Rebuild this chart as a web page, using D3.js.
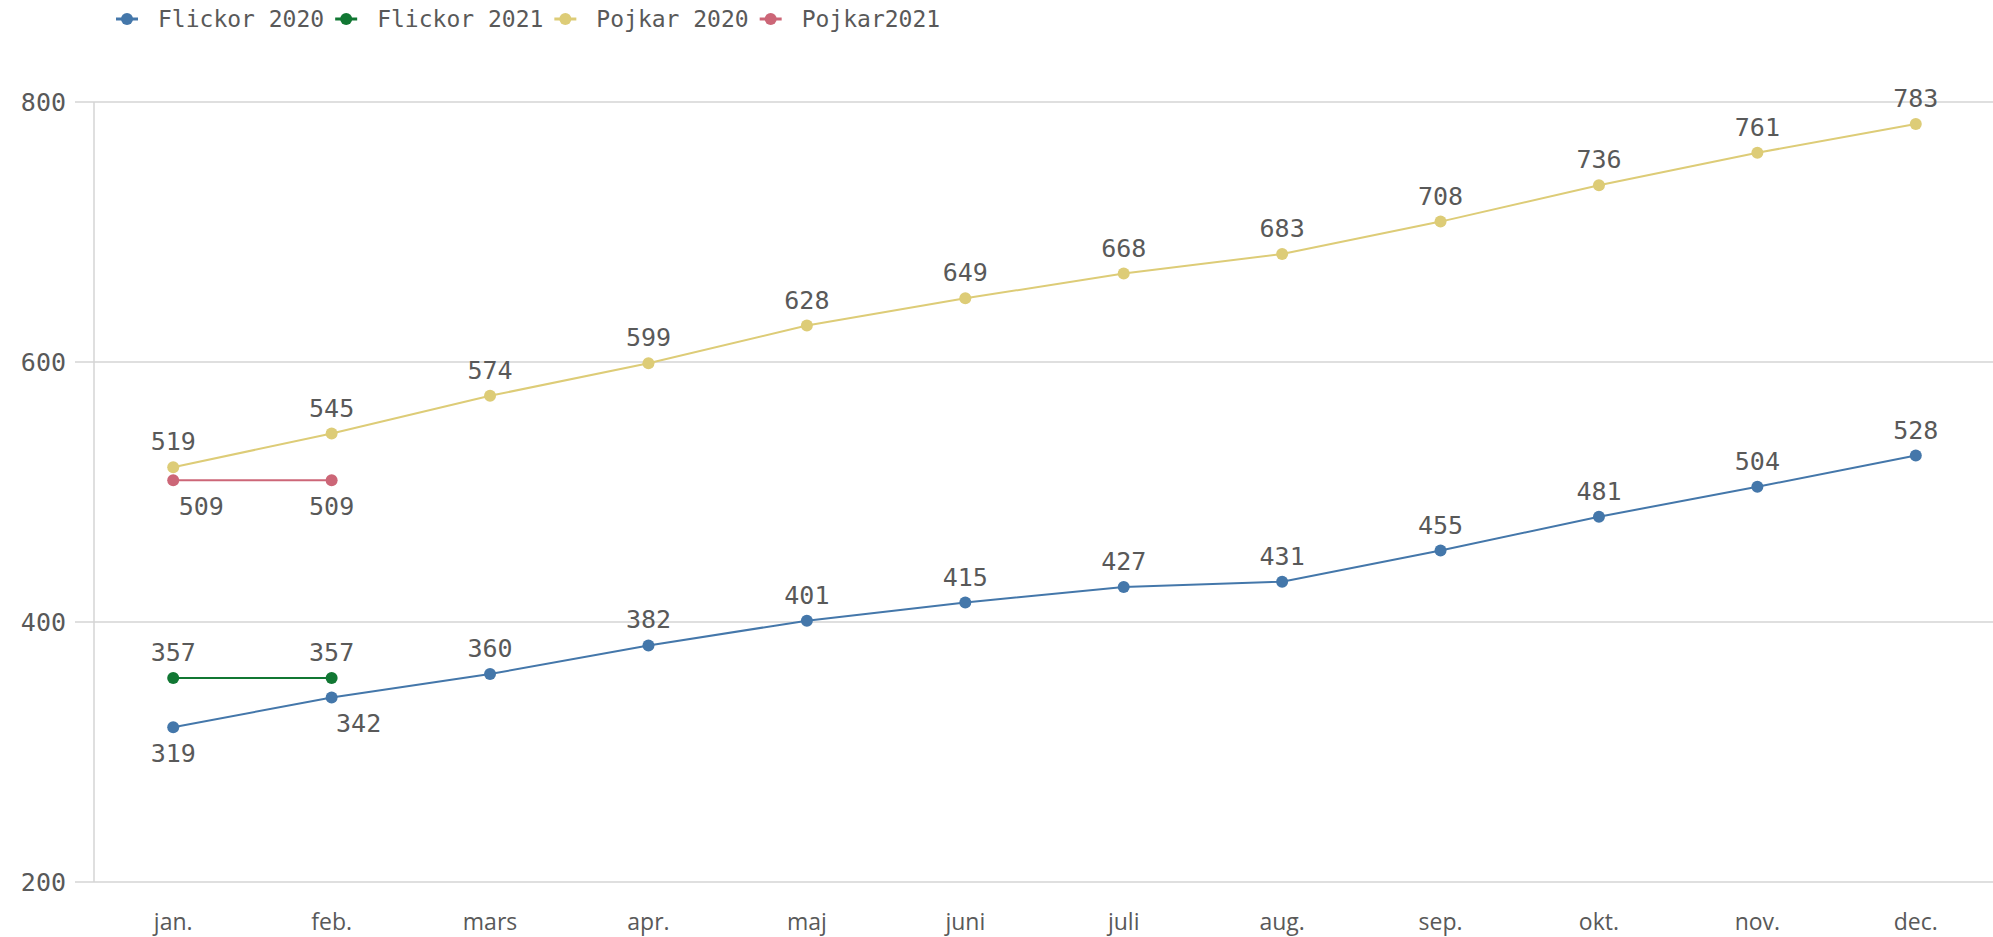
<!DOCTYPE html>
<html>
<head>
<meta charset="utf-8">
<script src="https://d3js.org/d3.v7.min.js"></script>
<style>
  body { margin: 0; background: #fff; }
</style>
</head>
<body>
<div id="container"></div>
<script>
const months = ["jan.", "feb.", "mars", "apr.", "maj", "juni", "juli", "aug.", "sep.", "okt.", "nov.", "dec."];
const flickor2020 = [319, 342, 360, 382, 401, 415, 427, 431, 455, 481, 504, 528];
const flickor2021 = [357, 357];
const pojkar2020 = [519, 545, 574, 599, 628, 649, 668, 683, 708, 736, 761, 783];
const pojkar2021 = [509, 509];
const yTicks = [200, 400, 600, 800];

const width = 1993;
const height = 937;
const margin = { top: 102, right: -2, bottom: 55, left: 94 };
const numFont = "'DejaVu Sans Mono', monospace";
const textColor = "#595959";

const series = [
    { name: "Flickor 2020", color: "#4477aa", values: flickor2020 },
    { name: "Flickor 2021", color: "#117733", values: flickor2021 },
    { name: "Pojkar 2020", color: "#ddcc77", values: pojkar2020 },
    { name: "Pojkar2021", color: "#cc6677", values: pojkar2021 }
];

// labels that sit under the point instead of above (series index - month index : dx)
const below = { "0-0": 0, "0-1": 27, "3-0": 28, "3-1": 0 };

let x = d3.scalePoint()
    .domain(months)
    .range([margin.left, width - margin.right])
    .padding(0.5);

let y = d3.scaleLinear()
    .domain([200, 800])
    .range([height - margin.bottom, margin.top]);

let svg = d3.select("#container").append("svg")
    .attr("width", width)
    .attr("height", height);

// grid
svg.append("g")
    .selectAll("line")
    .data(yTicks)
    .join("line")
    .attr("x1", margin.left - 19)
    .attr("x2", width)
    .attr("y1", d => y(d))
    .attr("y2", d => y(d))
    .attr("stroke", "#d4d4d4")
    .attr("stroke-width", 1.5);

svg.append("line")
    .attr("x1", margin.left)
    .attr("x2", margin.left)
    .attr("y1", y(800))
    .attr("y2", y(200))
    .attr("stroke", "#d4d4d4")
    .attr("stroke-width", 1.5);

svg.append("g")
    .selectAll("text")
    .data(yTicks)
    .join("text")
    .attr("x", 66)
    .attr("y", d => y(d))
    .attr("dy", "0.35em")
    .attr("text-anchor", "end")
    .attr("font-family", numFont)
    .attr("font-size", 25)
    .attr("fill", textColor)
    .text(d => d);

svg.append("g")
    .selectAll("text")
    .data(months)
    .join("text")
    .attr("x", d => x(d))
    .attr("y", 930)
    .attr("text-anchor", "middle")
    .attr("font-family", "'Open Sans', sans-serif")
    .attr("font-size", 23)
    .attr("fill", textColor)
    .text(d => d);

let line = d3.line()
    .x((d, i) => x(months[i]))
    .y(d => y(d));

series.forEach((s, si) => {
    let g = svg.append("g");
    g.append("path")
        .attr("fill", "none")
        .attr("stroke", s.color)
        .attr("stroke-width", 2)
        .attr("d", line(s.values));
    g.selectAll("circle")
        .data(s.values)
        .join("circle")
        .attr("cx", (d, i) => x(months[i]))
        .attr("cy", d => y(d))
        .attr("r", 6)
        .attr("fill", s.color);
    g.selectAll("text")
        .data(s.values)
        .join("text")
        .attr("x", (d, i) => {
            let k = si + "-" + i;
            return x(months[i]) + (k in below ? below[k] : 0);
        })
        .attr("y", (d, i) => y(d) + ((si + "-" + i) in below ? 35 : -17))
        .attr("text-anchor", "middle")
        .attr("font-family", numFont)
        .attr("font-size", 25)
        .attr("fill", textColor)
        .text(d => d);
});

// legend
let legend = svg.append("g").attr("transform", "translate(0,19)");
let lx = 127;
series.forEach(s => {
    let item = legend.append("g");
    item.append("line")
        .attr("x1", lx - 11)
        .attr("x2", lx + 11)
        .attr("stroke", s.color)
        .attr("stroke-width", 3);
    item.append("circle")
        .attr("cx", lx)
        .attr("r", 6)
        .attr("fill", s.color);
    let t = item.append("text")
        .attr("x", lx + 31)
        .attr("dy", "0.35em")
        .attr("font-family", numFont)
        .attr("font-size", 23)
        .attr("fill", textColor)
        .text(s.name);
    lx += 31 + t.node().getComputedTextLength() + 22;
});
</script>
</body>
</html>
